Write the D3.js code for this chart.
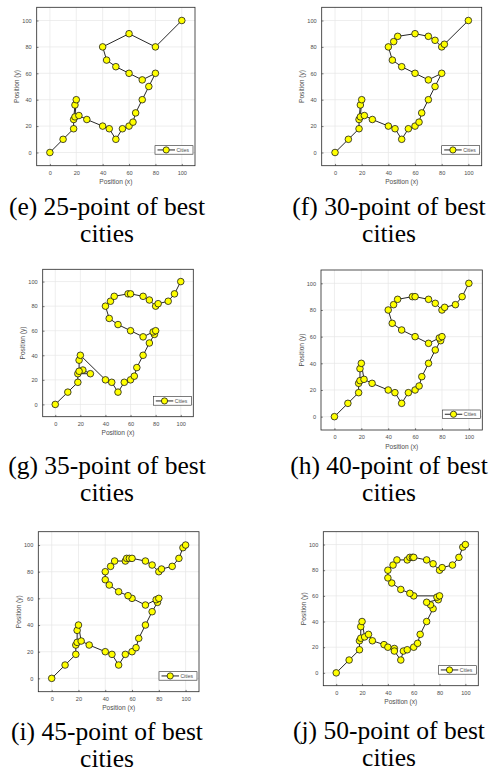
<!DOCTYPE html>
<meta charset="utf-8">
<style>
    body {
        margin: 0;
        background-color: #fff;
    }

    svg {
        display: block;
    }

    .tick text {
        font: 5.6px Arial, "Liberation Sans", sans-serif;
        fill: #4d4d4d;
    }

    .axisTitle {
        font: 6.6px Arial, "Liberation Sans", sans-serif;
        fill: #4d4d4d;
    }

    .caption {
        font: 25.5px "Times New Roman", "Liberation Serif", serif;
        fill: #000;
    }

    .grid line {
        stroke: #e6e6e6;
        stroke-width: 0.7;
    }
</style>

<body>
    <script src="https://cdn.jsdelivr.net/npm/d3@7"></script>
    <script>
        // best city routes, in visiting order
        var cities25 = [[0,0],[10,10],[18,18],[18,25],[19,36],[20,40],[19,27],[22,28],[28,25],[40,20],[45,18],[50,10],[55,18],[60,20],[63,23],[65,30],[70,40],[75,50],[80,60],[70,55],[60,60],[50,65],[43,70],[40,80],[60,90],[80,80],[100,100]];
        var cities30 = [[0,0],[10,10],[18,18],[18,25],[19,36],[20,40],[19,27],[22,28],[28,25],[40,20],[45,18],[50,10],[55,18],[60,20],[63,23],[65,30],[70,40],[75,50],[80,60],[70,55],[60,60],[50,65],[43,70],[40,80],[44,84],[47,88],[60,90],[70,88],[75,85],[80,80],[82,82],[100,100]];
        var cities35 = [[0,0],[10,10],[18,18],[18,25],[28,25],[22,28],[19,27],[19,36],[20,40],[40,20],[45,18],[50,10],[55,18],[60,20],[63,23],[65,30],[70,40],[75,50],[79,57],[78,59],[80,60],[70,55],[60,60],[50,65],[43,70],[40,80],[44,84],[47,88],[58,90],[60,90],[70,88],[75,85],[80,80],[82,82],[90,84],[95,90],[100,100]];
        var cities40 = [[0,0],[10,10],[18,18],[18,25],[19,27],[19,36],[20,40],[22,28],[28,25],[40,20],[45,18],[50,10],[55,18],[60,20],[63,23],[65,30],[70,40],[75,50],[79,57],[78,59],[80,60],[70,55],[60,60],[50,65],[43,70],[40,80],[44,84],[47,88],[58,90],[60,90],[70,88],[75,85],[80,80],[82,82],[90,84],[95,90],[100,100]];
        var cities45 = [[0,0],[10,10],[18,18],[18,25],[19,27],[19,36],[20,40],[22,28],[28,25],[40,20],[45,18],[50,10],[55,18],[60,20],[63,23],[65,30],[70,40],[75,50],[79,57],[78,59],[80,60],[70,55],[60,60],[57,62],[50,65],[43,70],[40,74],[40,80],[44,84],[47,88],[55,88],[56,90],[58,90],[60,90],[70,88],[75,85],[80,80],[82,82],[90,84],[95,90],[98,98],[100,100]];
        var cities50 = [[0,0],[10,10],[18,18],[18,25],[19,27],[19,36],[20,40],[22,28],[25,30],[28,25],[37,22],[40,20],[45,19],[45,17],[50,10],[52,17],[55,18],[60,20],[63,23],[65,30],[70,40],[75,50],[73,53],[70,55],[79,57],[78,59],[80,60],[60,60],[57,62],[50,65],[43,70],[40,74],[40,80],[44,84],[47,88],[55,88],[57,90],[59,90],[60,90],[70,88],[75,85],[80,80],[82,82],[90,84],[95,90],[98,98],[100,100]];

        var tickValues = [0, 20, 40, 60, 80, 100];
        var axisDomain = [-10, 110];
        var captions = [
            ["(e) 25-point of best", "cities"],
            ["(f) 30-point of best", "cities"],
            ["(g) 35-point of best", "cities"],
            ["(h) 40-point of best", "cities"],
            ["(i) 45-point of best", "cities"],
            ["(j) 50-point of best", "cities"]
        ];
        var legendLabel = "Cities";

        // plot boxes on the page
        var panels = [
            {data: cities25, left: 36.7, top: 7.3, width: 158.3, height: 158.4, capX: 107, capY: 215},
            {data: cities30, left: 321.7, top: 7.3, width: 160, height: 158.4, capX: 389, capY: 215},
            {data: cities35, left: 42.7, top: 269.3, width: 150.6, height: 147.4, capX: 107, capY: 474},
            {data: cities40, left: 321, top: 270, width: 161.3, height: 160, capX: 389, capY: 474},
            {data: cities45, left: 38.3, top: 531.7, width: 160.7, height: 160, capX: 107, capY: 740},
            {data: cities50, left: 323.3, top: 531.7, width: 155, height: 154, capX: 389, capY: 739}
        ];

        var svg = d3.select("body").append("svg")
            .attr("width", 494)
            .attr("height", 773);

        panels.forEach(function(p, i) {
            var g = svg.append("g")
                .attr("transform", "translate(" + p.left + "," + p.top + ")");

            var x = d3.scaleLinear().domain(axisDomain).range([0, p.width]);
            var y = d3.scaleLinear().domain(axisDomain).range([p.height, 0]);

            // grid
            g.append("g").attr("class", "grid")
                .selectAll("line.gx").data(tickValues).enter().append("line")
                .attr("x1", d => x(d)).attr("x2", d => x(d))
                .attr("y1", 0).attr("y2", p.height);
            g.append("g").attr("class", "grid")
                .selectAll("line.gy").data(tickValues).enter().append("line")
                .attr("y1", d => y(d)).attr("y2", d => y(d))
                .attr("x1", 0).attr("x2", p.width);

            // axes, ticks pointing inwards
            var xAxis = d3.axisBottom(x).tickValues(tickValues).tickSizeInner(-1.8).tickSizeOuter(0).tickPadding(5);
            var yAxis = d3.axisLeft(y).tickValues(tickValues).tickSizeInner(-1.8).tickSizeOuter(0).tickPadding(5);

            var gx = g.append("g")
                .attr("transform", "translate(0," + p.height + ")")
                .call(xAxis);
            var gy = g.append("g").call(yAxis);
            [gx, gy].forEach(function(a) {
                a.select(".domain").remove();
                a.selectAll(".tick line").attr("stroke", "#262626").attr("stroke-width", 0.6);
            });

            // box around the plot
            g.append("rect")
                .attr("width", p.width)
                .attr("height", p.height)
                .attr("fill", "none")
                .attr("stroke", "#262626")
                .attr("stroke-width", 0.8);

            g.append("text")
                .attr("class", "axisTitle")
                .attr("x", p.width / 2)
                .attr("y", p.height + 18.5)
                .attr("text-anchor", "middle")
                .text("Position (x)");

            g.append("text")
                .attr("class", "axisTitle")
                .attr("transform", "translate(-17.5," + (p.height / 2) + ") rotate(-90)")
                .attr("text-anchor", "middle")
                .text("Position (y)");

            var line = d3.line()
                .x(d => x(d[0]))
                .y(d => y(d[1]));

            g.append("path")
                .datum(p.data)
                .attr("d", line)
                .attr("fill", "none")
                .attr("stroke", "#262626")
                .attr("stroke-width", 1);

            g.selectAll(".city")
                .data(p.data)
                .enter().append("circle")
                .attr("class", "city")
                .attr("cx", d => x(d[0]))
                .attr("cy", d => y(d[1]))
                .attr("r", 3.3)
                .attr("fill", "#ffff00")
                .attr("stroke", "#1a1a1a")
                .attr("stroke-width", 0.8);

            // legend
            var lw = 38, lh = 8.5;
            var lg = g.append("g")
                .attr("transform", "translate(" + (p.width - lw - 2) + "," + (p.height - lh - 11.5) + ")");
            lg.append("rect")
                .attr("width", lw).attr("height", lh)
                .attr("fill", "#fff")
                .attr("stroke", "#262626")
                .attr("stroke-width", 0.6);
            lg.append("line")
                .attr("x1", 2.5).attr("x2", 20)
                .attr("y1", lh / 2).attr("y2", lh / 2)
                .attr("stroke", "#262626").attr("stroke-width", 1);
            lg.append("circle")
                .attr("cx", 11.2).attr("cy", lh / 2).attr("r", 3.1)
                .attr("fill", "#ffff00").attr("stroke", "#1a1a1a").attr("stroke-width", 0.8);
            lg.append("text")
                .attr("x", 21.5).attr("y", lh / 2 + 1.8)
                .style("font", "5px Arial, 'Liberation Sans', sans-serif")
                .attr("fill", "#4d4d4d")
                .text(legendLabel);

            // caption under each plot
            var cap = svg.append("text")
                .attr("class", "caption")
                .attr("text-anchor", "middle")
                .attr("x", p.capX)
                .attr("y", p.capY);
            cap.append("tspan").attr("x", p.capX).text(captions[i][0]);
            cap.append("tspan").attr("x", p.capX).attr("dy", 27).text(captions[i][1]);
        });
    </script>
</body>

</html>
